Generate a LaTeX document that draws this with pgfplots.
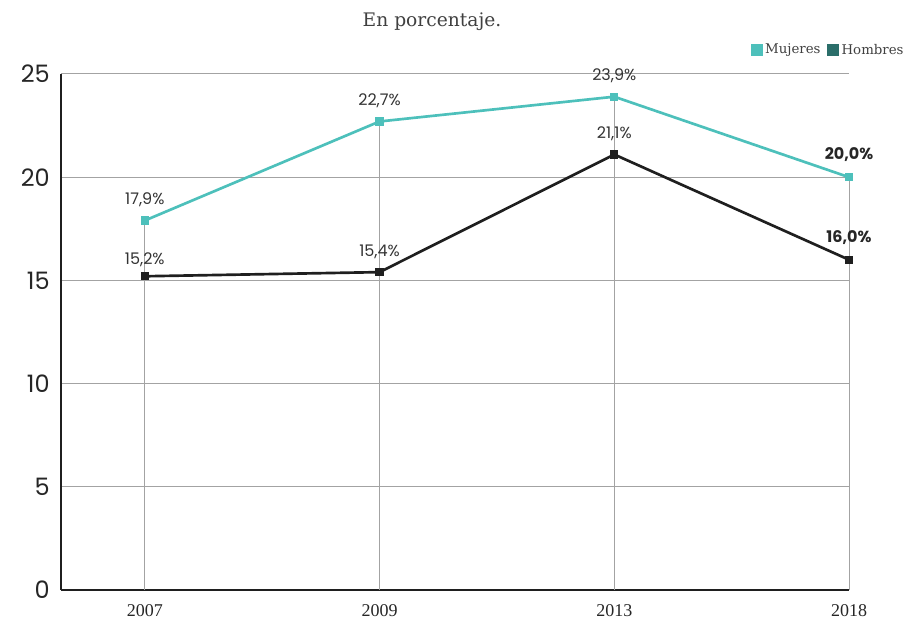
\documentclass[border=0pt]{standalone}
\usepackage{pgfplots}
\pgfplotsset{compat=1.18}
\usepackage{fontspec}
\setmainfont{DejaVu Serif}
\newfontfamily\pop{Poppins}
\newfontfamily\ser{Liberation Serif}
\definecolor{muj}{HTML}{4DC0BB}
\definecolor{hom}{HTML}{1F1F1F}
\definecolor{homleg}{HTML}{2B6E6A}
\definecolor{gridc}{HTML}{A3A3A3}
\begin{document}
\begin{tikzpicture}[x=1pt,y=1pt]
\useasboundingbox (0,0) rectangle (682.5,465);
\node[font=\fontsize{14}{14}\selectfont, text=black!75] at (324,448.5) {En porcentaje.};
\begin{axis}[
  at={(45.75pt,22.5pt)}, anchor=south west, scale only axis,
  width=591pt, height=387pt,
  xmin=-0.357, xmax=3, ymin=0, ymax=25,
  clip=false,
  axis x line*=bottom, axis y line*=left,
  x axis line style={line width=1.8pt, color=hom},
  y axis line style={line width=1.8pt, color=hom},
  xtick={0,1,2,3}, xticklabels={2007,2009,2013,2018},
  ytick={0,5,10,15,20,25},
  major tick length=0pt,
  ymajorgrids, grid style={gridc, line width=0.75pt},
  /pgf/number format/assume math mode=true,
  yticklabel style={font=\pop\fontsize{18}{18}\selectfont, text=black!85, xshift=-5pt},
  xticklabel style={font=\ser\fontsize{13.5}{13.5}\selectfont, text=black!85, yshift=-7pt},
  legend columns=2,
  legend style={draw=none, fill=none, at={(1.078,1.0465)}, anchor=east,
    font=\fontsize{10}{10}\selectfont, text=black!75,
    /tikz/every even column/.append style={column sep=3pt}},
]
\addlegendimage{legend image code/.code={\fill[muj] (0pt,-4.2pt) rectangle (8.4pt,4.2pt);}}
\addlegendentry{Mujeres}
\addlegendimage{legend image code/.code={\fill[homleg] (0pt,-4.2pt) rectangle (8.4pt,4.2pt);}}
\addlegendentry{Hombres}
% drop lines
\addplot[ycomb, gridc, line width=0.75pt, mark=none, forget plot] coordinates {(0,17.9) (1,22.7) (2,23.9) (3,20.0)};
% series
\addplot[muj, line width=2pt, mark=square*, mark size=2.1pt, forget plot] coordinates {(0,17.9) (1,22.7) (2,23.9) (3,20.0)};
\addplot[hom, line width=2pt, mark=square*, mark size=2.1pt, forget plot] coordinates {(0,15.2) (1,15.4) (2,21.1) (3,16.0)};
% labels
\addplot[draw=none, mark=none, forget plot, point meta=explicit symbolic,
  nodes near coords, nodes near coords style={font=\pop\fontsize{12}{12}\selectfont, text=black!80, anchor=base, inner sep=0pt, yshift=12pt}]
  coordinates {(0,17.9) [17,9\%] (1,22.7) [22,7\%] (2,23.9) [23,9\%] (1,15.4) [15,4\%] (2,21.1) [21,1\%]};
\addplot[draw=none, mark=none, forget plot, point meta=explicit symbolic,
  nodes near coords, nodes near coords style={font=\pop\fontsize{12}{12}\selectfont, text=black!80, anchor=base, inner sep=0pt, yshift=9pt}]
  coordinates {(0,15.2) [15,2\%]};
\addplot[draw=none, mark=none, forget plot, point meta=explicit symbolic,
  nodes near coords, nodes near coords style={font=\pop\bfseries\fontsize{12}{12}\selectfont, text=black!85, anchor=base, inner sep=0pt, yshift=13pt}]
  coordinates {(3,20.0) [20,0\%] (3,16.0) [16,0\%]};
\end{axis}
\end{tikzpicture}
\end{document}
